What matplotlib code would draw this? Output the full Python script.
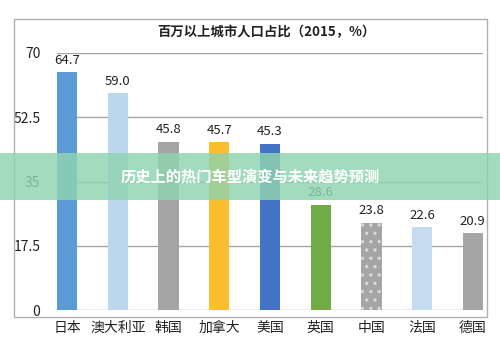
import matplotlib
matplotlib.use("Agg")
import matplotlib.pyplot as plt
from matplotlib.patches import Rectangle

plt.rcParams['font.family'] = ['Noto Sans CJK SC', 'DejaVu Sans']
plt.rcParams['hatch.linewidth'] = 1.2

countries = ['日本', '澳大利亚', '韩国', '加拿大', '美国', '英国', '中国', '法国', '德国']
values = [64.7, 59.0, 45.8, 45.7, 45.3, 28.6, 23.8, 22.6, 20.9]
colors = ['#5B9BD5', '#BDD7EE', '#A5A5A5', '#FBBE2E', '#4472C4', '#70AD47', '#A5A5A5', '#C5DCF0', '#A5A5A5']
yticks = [0, 17.5, 35, 52.5, 70]
ytick_labels = ['0', '17.5', '35', '52.5', '70']

fig = plt.figure(figsize=(5, 3.5), dpi=100)
ax = fig.add_axes([57/500, 1 - 310/350, 426/500, 257/350])

x = range(len(countries))
bars = ax.bar(x, values, width=0.4, color=colors, zorder=3, linewidth=0)
# China bar is dotted
bars[6].set_hatch('..')
bars[6].set_edgecolor('#D8D8D8')

for xi, v in zip(x, values):
    ax.text(xi, v + 1.5, f'{v:.1f}', ha='center', va='bottom', fontsize=9.5, color='#222222')

ax.set_xlim(-0.2, 8.2)
ax.set_ylim(0, 70)
ax.set_yticks(yticks)
ax.set_yticklabels(ytick_labels)
ax.set_xticks(list(x))
ax.set_xticklabels(countries)
ax.tick_params(axis='both', length=0, labelsize=10, colors='#222222')
ax.tick_params(axis='y', pad=12)
ax.tick_params(axis='x', pad=8)
ax.yaxis.grid(True, color='#A6A6A6', linewidth=1, zorder=0)
for s in ax.spines.values():
    s.set_visible(False)

fig.text(0.532, 1 - 32/350, '百万以上城市人口占比（2015，%）', ha='center', va='center',
         fontsize=9.6, fontweight='bold', color='#222222')

# chart frame
fig.patches.append(Rectangle((14/500, 1 - 317/350), 473/500, 298/350, transform=fig.transFigure,
                             fill=False, edgecolor='#B0B0B0', linewidth=1))

# overlay banner
fig.patches.append(Rectangle((0, 1 - 200/350), 1, 47/350, transform=fig.transFigure,
                             facecolor='#8FD4B0', alpha=0.82, edgecolor='none', zorder=10))
fig.text(0.501, 1 - 176/350, '历史上的热门车型演变与未来趋势预测', ha='center', va='center',
         fontsize=11, fontweight='bold', color='white', zorder=11)

fig.savefig('out.png', dpi=100)
